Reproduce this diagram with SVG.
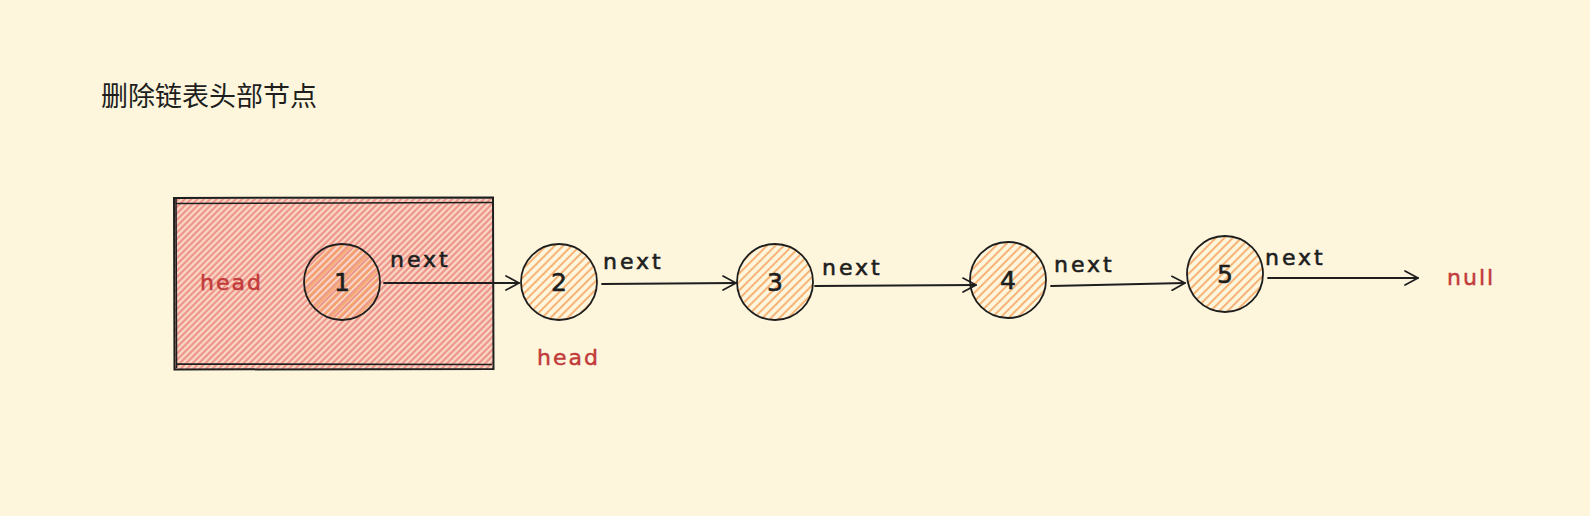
<svg xmlns="http://www.w3.org/2000/svg" width="1590" height="516" viewBox="0 0 1590 516">
<defs>
<pattern id="redHatch" patternUnits="userSpaceOnUse" width="4.5" height="4.5" patternTransform="rotate(45)">
<rect width="4.5" height="4.5" fill="#fad8c6"/>
<line x1="1.5" y1="0" x2="1.5" y2="4.5" stroke="#ec9086" stroke-width="2.1"/>
</pattern>
<pattern id="orangeHatch" patternUnits="userSpaceOnUse" width="6" height="6" patternTransform="rotate(45)">
<line x1="2" y1="0" x2="2" y2="6" stroke="#f5a35c" stroke-width="1.6"/>
</pattern>
<marker id="arr" markerWidth="16" markerHeight="16" refX="14" refY="8" orient="auto" markerUnits="userSpaceOnUse">
<path d="M1,1 L14,8 L1,15" fill="none" stroke="#1e1e1e" stroke-width="1.7" stroke-linecap="round" stroke-linejoin="round"/>
</marker>
<style>
.node{stroke:#1e1e1e;stroke-width:1.8;fill:url(#orangeHatch)}
.conn{fill:none;stroke:#1e1e1e;stroke-width:1.8;stroke-linecap:round;marker-end:url(#arr)}
.hand{font-family:"DejaVu Sans",sans-serif;fill:#1e1e1e;stroke:#1e1e1e;stroke-width:0.6}
.lbl{font-size:22px;letter-spacing:3px}
.red{font-family:"DejaVu Sans",sans-serif;fill:#c23b3b;stroke:#c23b3b;stroke-width:0.5;font-size:22px;letter-spacing:2px}
.num{font-size:25px;text-anchor:middle}
</style>
</defs>
<rect width="1590" height="516" fill="#fdf6dd"/>
<text x="101" y="106" font-family="'Noto Sans CJK SC', sans-serif" font-size="27" fill="#1e1e1e">删除链表头部节点</text>

<g id="deleted-box">
<rect x="175" y="199" width="318" height="170" fill="url(#redHatch)"/>
<path d="M174,198 L493,197.5 L493.5,369 L174.5,369.5 Z" fill="none" stroke="#1e1e1e" stroke-width="2"/>
<path d="M176,203.5 L492,202.5 M176.5,364 L492,364.5 M176,199 L176.5,368" fill="none" stroke="#1e1e1e" stroke-width="1.6"/>
<text class="red" x="200" y="290">head</text>
</g>

<g id="node1">
<circle class="node" cx="342" cy="282" r="38"/>
<text class="hand num" x="342" y="291">1</text>
</g>
<g id="node2">
<circle class="node" cx="559" cy="282" r="38"/>
<text class="hand num" x="559" y="291">2</text>
</g>
<g id="node3">
<circle class="node" cx="775" cy="282" r="38"/>
<text class="hand num" x="775" y="291">3</text>
</g>
<g id="node4">
<circle class="node" cx="1008" cy="280" r="38"/>
<text class="hand num" x="1008" y="289">4</text>
</g>
<g id="node5">
<circle class="node" cx="1225" cy="274" r="38"/>
<text class="hand num" x="1225" y="283">5</text>
</g>

<g id="head-label">
<text class="red" x="537" y="365">head</text>
</g>
<g id="null-label">
<text class="red" x="1447" y="285" letter-spacing="0.5">null</text>
</g>

<g id="connectors">
<path class="conn" d="M384,283 L519,283"/>
<path class="conn" d="M602,284 L736,283"/>
<path class="conn" d="M815,286 L976,285"/>
<path class="conn" d="M1051,286 L1185,283"/>
<path class="conn" d="M1268,278 L1418,278"/>
<text class="hand lbl" x="390" y="267">next</text>
<text class="hand lbl" x="603" y="269">next</text>
<text class="hand lbl" x="822" y="275">next</text>
<text class="hand lbl" x="1054" y="272">next</text>
<text class="hand lbl" x="1265" y="265">next</text>
</g>
</svg>
